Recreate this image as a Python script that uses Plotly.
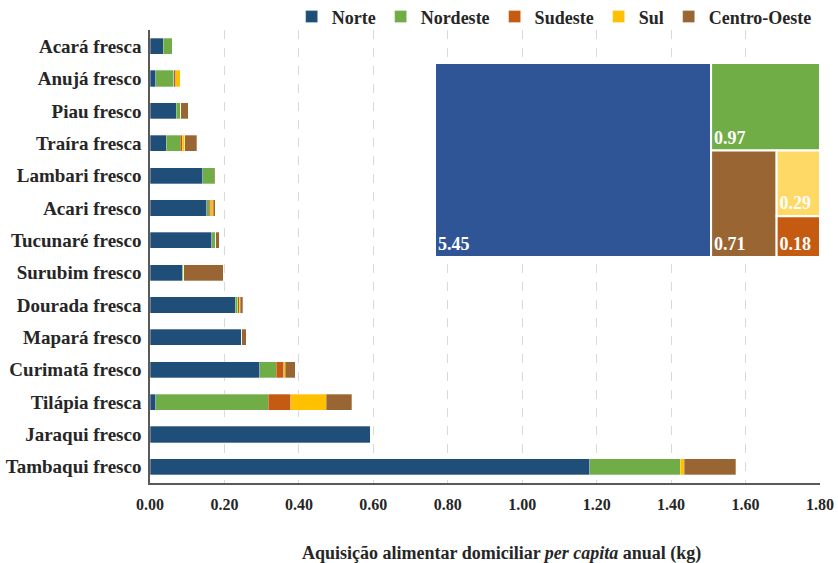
import plotly.graph_objects as go

categories = ["Acará fresca", "Anujá fresco", "Piau fresco", "Traíra fresca",
              "Lambari fresco", "Acari fresco", "Tucunaré fresco", "Surubim fresco",
              "Dourada fresca", "Mapará fresco", "Curimatã fresco", "Tilápia fresca",
              "Jaraqui fresco", "Tambaqui fresco"]

norte        = [0.036, 0.015, 0.070, 0.044, 0.142, 0.153, 0.166, 0.086, 0.229, 0.247, 0.295, 0.016, 0.592, 1.182]
nordeste     = [0.024, 0.049, 0.012, 0.037, 0.031, 0.006, 0.011, 0.005, 0.007, 0.000, 0.044, 0.302, 0.000, 0.243]
sudeste      = [0.000, 0.005, 0.000, 0.005, 0.000, 0.004, 0.000, 0.000, 0.004, 0.000, 0.020, 0.060, 0.000, 0.000]
sul          = [0.000, 0.012, 0.000, 0.007, 0.000, 0.007, 0.000, 0.000, 0.002, 0.000, 0.005, 0.096, 0.000, 0.010]
centro_oeste = [0.000, 0.000, 0.021, 0.033, 0.002, 0.005, 0.009, 0.106, 0.007, 0.012, 0.026, 0.068, 0.000, 0.139]

regions = ["Norte", "Nordeste", "Sudeste", "Sul", "Centro-Oeste"]
bar_colors = ["#1F4E79", "#70AD47", "#C55A11", "#FFC000", "#996633"]

tm_labels = ["Norte", "Nordeste", "Centro-Oeste", "Sul", "Sudeste"]
tm_values = [5.45, 0.97, 0.71, 0.29, 0.18]
tm_colors = ["#2F5597", "#70AD47", "#996633", "#FFD966", "#C55A11"]

xticks = [0.0, 0.2, 0.4, 0.6, 0.8, 1.0, 1.2, 1.4, 1.6, 1.8]
x_title = "Aquisição alimentar domiciliar <i>per capita</i> anual (kg)"

FONT = "Liberation Serif, Times New Roman, serif"
TXT = "#262626"
fig = go.Figure()
series = [norte, nordeste, sudeste, sul, centro_oeste]
for name, vals, col in zip(regions, series, bar_colors):
    fig.add_trace(go.Bar(
        y=categories, x=vals, name=name, orientation="h",
        marker=dict(color=col, line=dict(color="rgba(255,255,255,0.6)", width=0.5)),
        width=0.5,
    ))

fig.add_trace(go.Treemap(
    labels=tm_labels, parents=[""] * len(tm_labels), values=tm_values,
    marker=dict(colors=tm_colors, line=dict(color="white", width=2),
                pad=dict(t=0, l=0, r=0, b=0)),
    texttemplate="%{value:.2f}", textposition="bottom left",
    textfont=dict(family=FONT, size=18, color="white", weight="bold"),
    pathbar=dict(visible=False),
    sort=True,
    tiling=dict(packing="squarify", pad=0),
    domain=dict(x=[0.4254, 1.0], y=[0.499, 0.927]),
    hoverinfo="label+value",
))

fig.add_annotation(
    text=x_title, xref="paper", yref="paper", x=0.524, y=-0.155,
    xanchor="center", yanchor="middle", showarrow=False,
    font=dict(family=FONT, size=18, weight="bold", color=TXT),
)

fig.update_layout(
    width=838, height=563,
    barmode="stack",
    plot_bgcolor="white", paper_bgcolor="white",
    margin=dict(l=150, r=18, t=30, b=80, autoexpand=False),
    font=dict(family=FONT, size=15, color=TXT),
    legend=dict(orientation="h", x=0.995, xanchor="right", y=1.029, yanchor="middle",
                font=dict(family=FONT, size=18, color=TXT, weight="bold"),
                itemwidth=30, traceorder="normal", bgcolor="rgba(0,0,0,0)"),
    xaxis=dict(range=[0, 1.8], tickvals=xticks, ticktext=[f"{v:.2f}" for v in xticks],
               showgrid=True, gridcolor="#D9D9D9", griddash="dash", gridwidth=1,
               showline=True, linecolor="#595959", linewidth=1.5,
               zeroline=False, ticks="", ticklabelstandoff=6, automargin=False,
               tickfont=dict(family=FONT, size=16, weight="bold", color=TXT)),
    yaxis=dict(categoryorder="array", categoryarray=categories, autorange="reversed",
               showline=True, linecolor="#595959", linewidth=1.5,
               showgrid=False, ticks="", ticklabelstandoff=3, automargin=False,
               tickfont=dict(family=FONT, size=19, weight="bold", color=TXT)),
)

fig.write_html("out.html")
